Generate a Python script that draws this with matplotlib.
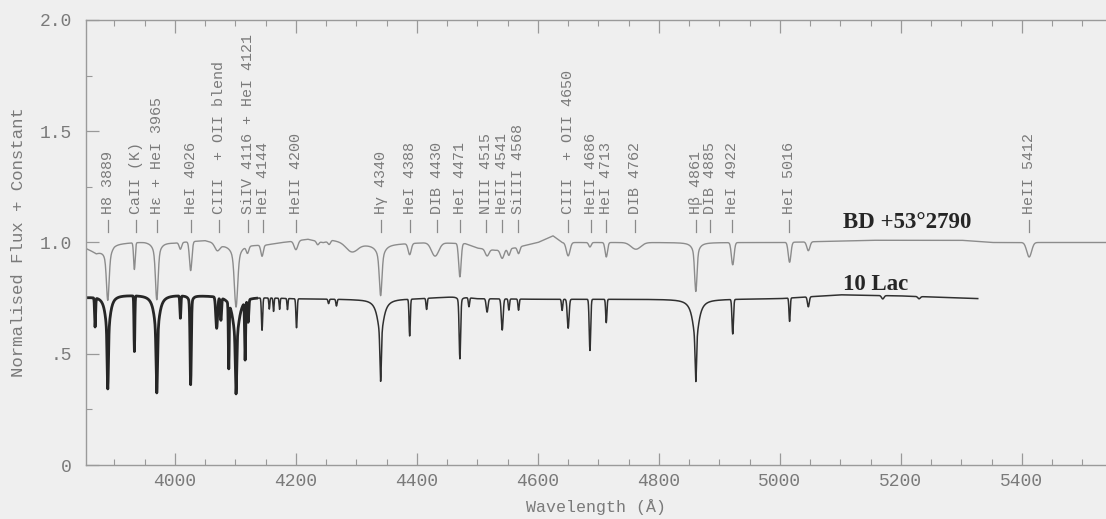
import numpy as np
import matplotlib
matplotlib.use("Agg")
import matplotlib.pyplot as plt
from matplotlib.ticker import MultipleLocator, FixedLocator

# ---------------- data ----------------
# Line identifications (wavelength of marker, label text)
id_wave = [3889, 3935, 3970, 4026, 4073, 4120, 4145, 4200, 4341, 4388,
           4433, 4472, 4515, 4541, 4567, 4650, 4688, 4712, 4761, 4861,
           4884, 4921, 5015, 5412]
id_text = ["H8 3889", "CaII (K)", "Hε + HeI 3965", "HeI 4026",
           "CIII  + OII blend", "SiIV 4116 + HeI 4121", "HeI 4144",
           "HeII 4200", "Hγ 4340", "HeI 4388", "DIB 4430", "HeI 4471",
           "NIII 4515", "HeII 4541", "SiIII 4568", "CIII  + OII 4650",
           "HeII 4686", "HeI 4713", "DIB 4762", "Hβ 4861", "DIB 4885",
           "HeI 4922", "HeI 5016", "HeII 5412"]

# BD +53 2790: continuum knots
bd_cont_w = [3853, 3870, 3900, 3950, 4000, 4050, 4080, 4150, 4175, 4220, 4245,
             4260, 4300, 4330, 4420, 4480, 4500, 4530, 4560, 4600, 4625, 4640,
             4700, 4800, 4900, 5000, 5150, 5300, 5350, 5539]
bd_cont_f = [0.975, 0.955, 0.995, 1.005, 1.0, 1.01, 0.99, 0.99, 1.0, 1.015, 1.0,
             1.01, 0.99, 0.99, 1.0, 0.995, 0.975, 0.965, 0.975, 1.0, 1.03, 1.0,
             1.0, 1.0, 1.0, 1.0, 1.01, 1.01, 1.0, 1.0]
# BD +53 2790: absorption line cores (centre, depth, gaussian width in A)
bd_line_w = [3889, 3933, 3970, 4009, 4026, 4070, 4101, 4120, 4144, 4200,
             4236, 4255, 4292, 4340, 4388, 4430, 4471, 4516, 4541, 4552,
             4568, 4650, 4686, 4713, 4762, 4861, 4922, 5016, 5047, 5412]
bd_line_d = [0.15, 0.12, 0.17, 0.03, 0.13, 0.03, 0.18, 0.03, 0.05, 0.04,
             0.015, 0.015, 0.035, 0.15, 0.05, 0.06, 0.15, 0.03, 0.04, 0.03,
             0.03, 0.06, 0.02, 0.065, 0.03, 0.15, 0.10, 0.09, 0.04, 0.065]
bd_line_s = [2.0, 1.3, 2.0, 2, 2, 4, 2.5, 2, 2, 3,
             2, 2, 9, 2.0, 2.5, 6, 2.0, 3, 3, 2,
             2, 3, 2, 2, 8, 1.8, 2.2, 2.2, 2.5, 4]
# BD +53 2790: Balmer wings (centre, depth, lorentzian half width in A)
bd_wing_w = [3889, 3970, 4101, 4340, 4861]
bd_wing_d = [0.09, 0.09, 0.10, 0.08, 0.07]
bd_wing_g = [5, 5, 6, 6, 5]

# 10 Lac: continuum knots
lac_cont_w = [3853, 3900, 4000, 4100, 4200, 4300, 4400, 4470, 4500, 4600,
              4700, 4800, 4900, 5000, 5100, 5200, 5327]
lac_cont_f = [0.755, 0.765, 0.765, 0.76, 0.748, 0.745, 0.748, 0.758, 0.748, 0.745,
              0.745, 0.745, 0.745, 0.748, 0.765, 0.76, 0.748]
# 10 Lac: absorption line cores (centre, depth, gaussian width in A)
lac_line_w = [3868, 3889, 3933, 3970, 4009, 4026, 4069, 4076, 4089, 4101,
              4116, 4121, 4144, 4156, 4163, 4173, 4186, 4201, 4254, 4267,
              4340, 4388, 4416, 4471, 4486, 4516, 4541, 4552, 4568, 4640,
              4650, 4686, 4713, 4861, 4922, 5016, 5047, 5170, 5230]
lac_line_d = [0.13, 0.25, 0.25, 0.27, 0.10, 0.36, 0.14, 0.10, 0.29, 0.25,
              0.26, 0.10, 0.145, 0.05, 0.06, 0.05, 0.05, 0.13, 0.02, 0.03,
              0.21, 0.165, 0.05, 0.25, 0.04, 0.06, 0.14, 0.05, 0.05, 0.05,
              0.13, 0.23, 0.105, 0.19, 0.155, 0.105, 0.045, 0.015, 0.01]
lac_line_s = [0.8, 1.0, 0.7, 1.1, 0.8, 1.0, 1.5, 1.0, 0.7, 1.1,
              0.8, 1.0, 1.0, 0.8, 0.8, 0.8, 0.8, 1.0, 1.0, 1.0,
              1.1, 1.0, 1.0, 1.2, 1.0, 1.5, 1.5, 1.0, 1.0, 1.0,
              1.5, 1.2, 1.0, 1.1, 1.2, 1.0, 1.5, 2.0, 2.0]
# 10 Lac: Balmer / HeI wings (centre, depth, lorentzian half width in A)
lac_wing_w = [3889, 3970, 4026, 4101, 4340, 4471, 4861]
lac_wing_d = [0.17, 0.17, 0.04, 0.19, 0.16, 0.03, 0.18]
lac_wing_g = [4.5, 5, 3, 6, 6, 3, 6]

bd_label = "BD +53°2790"
lac_label = "10 Lac"
x_ticks = [4000, 4200, 4400, 4600, 4800, 5000, 5200, 5400]
y_ticks = [0, 0.5, 1.0, 1.5, 2.0]
y_ticklabels = ["0", ".5", "1.0", "1.5", "2.0"]


def spectrum(wgrid, cw, cf, lw_, ld, ls, ww, wd, wg):
    f = np.interp(wgrid, cw, cf)
    prof = np.zeros_like(wgrid)
    for c, d, s in zip(lw_, ld, ls):
        prof += d * np.exp(-0.5 * ((wgrid - c) / s) ** 2)
    for c, d, g in zip(ww, wd, wg):
        prof += d / (1.0 + ((wgrid - c) / g) ** 2)
    return f - prof


bd_w = np.arange(3853, 5539.5, 0.5)
bd_f = spectrum(bd_w, bd_cont_w, bd_cont_f, bd_line_w, bd_line_d, bd_line_s,
                bd_wing_w, bd_wing_d, bd_wing_g)
lac_w = np.arange(3853, 5327.5, 0.5)
lac_f = spectrum(lac_w, lac_cont_w, lac_cont_f, lac_line_w, lac_line_d, lac_line_s,
                 lac_wing_w, lac_wing_d, lac_wing_g)

# ---------------- figure ----------------
bg = "#efefef"
txt = "#7a7a7a"
mono = ["Liberation Mono", "DejaVu Sans Mono"]

fig = plt.figure(figsize=(11.06, 5.19), dpi=100, facecolor=bg)
ax = fig.add_axes([86 / 1106, 54 / 519, 1 - 86 / 1106, 445 / 519])
ax.set_facecolor(bg)

ax.plot(bd_w, bd_f, color="#8c8c8c", lw=1.0)
blue = lac_w <= 4135
ax.plot(lac_w[blue], lac_f[blue], color="#262626", lw=2.0)
ax.plot(lac_w[lac_w >= 4134], lac_f[lac_w >= 4134], color="#303030", lw=1.1)

# line identifications
for w, t in zip(id_wave, id_text):
    ax.plot([w, w], [1.047, 1.10], color="#8a8a8a", lw=0.9)
    ax.text(w, 1.128, t, rotation=90, ha="center", va="bottom",
            fontsize=10.8, color=txt, family=mono)

ax.text(5104, 1.09, bd_label, ha="left", va="center", fontsize=16.5,
        fontweight="bold", color="#262626", family=["Liberation Serif"])
ax.text(5104, 0.81, lac_label, ha="left", va="center", fontsize=16.5,
        fontweight="bold", color="#262626", family=["Liberation Serif"])

ax.set_xlim(3853, 5539)
ax.set_ylim(0, 2.0)
ax.xaxis.set_major_locator(FixedLocator(x_ticks))
ax.xaxis.set_minor_locator(MultipleLocator(50))
ax.yaxis.set_major_locator(FixedLocator(y_ticks))
ax.yaxis.set_minor_locator(MultipleLocator(0.25))
ax.set_yticklabels(y_ticklabels)
ax.set_xticklabels([str(v) for v in x_ticks])

ax.tick_params(which="both", direction="in", top=True, right=False,
               colors="#999999", labelcolor=txt)
ax.tick_params(which="major", length=9, width=0.9, labelsize=13)
ax.tick_params(which="minor", length=4, width=0.8)
ax.tick_params(axis="y", pad=10)
ax.tick_params(axis="x", pad=6)
for lab in ax.get_xticklabels() + ax.get_yticklabels():
    lab.set_family(mono)

for side in ["left", "bottom", "top"]:
    ax.spines[side].set_color("#9a9a9a")
    ax.spines[side].set_linewidth(1.0)
ax.spines["right"].set_visible(False)

ax.set_xlabel("Wavelength (Å)", fontsize=12, color=txt, family=mono, labelpad=6)
ax.set_ylabel("Normalised Flux + Constant", fontsize=12.5, color=txt,
              family=mono, labelpad=10)

fig.savefig("out.png", dpi=100, facecolor=bg)
